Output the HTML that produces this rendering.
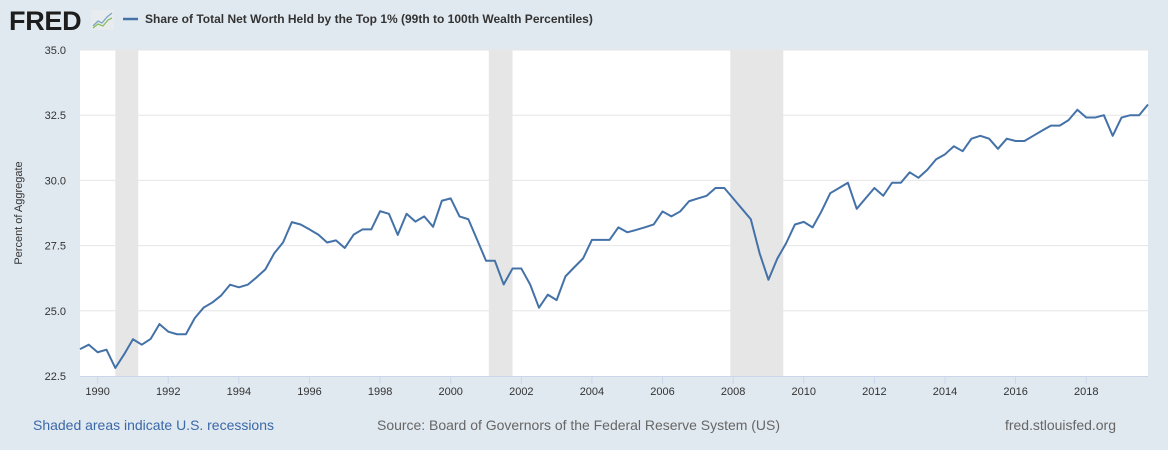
<!DOCTYPE html>
<html><head><meta charset="utf-8">
<style>
html,body{margin:0;padding:0;background:#e1e9f0;}
svg{display:block;font-family:"Liberation Sans",Arial,sans-serif;}
</style></head>
<body>
<svg id="chart" width="1168" height="450" viewBox="0 0 1168 450" xmlns="http://www.w3.org/2000/svg">
<rect x="0" y="0" width="1168" height="450" fill="#e1e9f0"/>
<g>
<text x="9" y="30" font-size="27" font-weight="bold" fill="#1d1d1d" letter-spacing="-0.3">FRED</text>
<rect x="91" y="10" width="23" height="20" fill="#e8ecef"/>
<polyline points="93,26 98,21 102,23 107,17 112,13" fill="none" stroke="#7aa6c8" stroke-width="1.3"/>
<polyline points="93,28 98,24 103,26 108,20 112,18" fill="none" stroke="#8cbf5a" stroke-width="1.3"/>
</g>
<g>
<line x1="123" y1="19" x2="138" y2="19" stroke="#4472a8" stroke-width="2.5"/>
<text x="145" y="23" font-size="12" font-weight="bold" fill="#333">Share of Total Net Worth Held by the Top 1% (99th to 100th Wealth Percentiles)</text>
</g>
<rect x="80" y="50" width="1068" height="326" fill="#ffffff"/>
<g id="rec"></g>
<g id="grid"></g>
<g id="xaxis"></g>
<path id="line" fill="none" stroke="#4472a8" stroke-width="2" stroke-linejoin="round"/>
<text x="22" y="213" font-size="11" fill="#333" text-anchor="middle" transform="rotate(-90 22 213)">Percent of Aggregate</text>
<text x="33" y="430" font-size="14" fill="#3a68a8" textLength="241">Shaded areas indicate U.S. recessions</text>
<text x="377" y="430" font-size="14" fill="#666" textLength="403">Source: Board of Governors of the Federal Reserve System (US)</text>
<text x="1005" y="430" font-size="14" fill="#666" textLength="111">fred.stlouisfed.org</text>
</svg>
<script>
const startYear = 1989.5;
const values = [23.53,23.7,23.41,23.51,22.81,23.33,23.91,23.7,23.92,24.49,24.2,24.1,24.1,24.72,25.12,25.32,25.59,26.0,25.9,26.0,26.28,26.59,27.2,27.62,28.4,28.31,28.12,27.92,27.62,27.7,27.41,27.92,28.12,28.12,28.82,28.72,27.91,28.72,28.42,28.62,28.22,29.22,29.31,28.62,28.51,27.72,26.92,26.92,26.01,26.62,26.62,26.01,25.12,25.62,25.41,26.32,26.67,27.01,27.72,27.72,27.72,28.2,28.01,28.1,28.2,28.31,28.81,28.62,28.81,29.2,29.31,29.41,29.71,29.71,29.31,28.91,28.51,27.2,26.19,27.0,27.59,28.31,28.41,28.2,28.81,29.51,29.71,29.91,28.91,29.31,29.71,29.41,29.91,29.91,30.31,30.1,30.41,30.81,31.0,31.31,31.12,31.6,31.71,31.6,31.21,31.6,31.51,31.51,31.71,31.91,32.1,32.1,32.31,32.71,32.41,32.41,32.5,31.71,32.41,32.5,32.5,32.91];
const yTicks = [22.5,25.0,27.5,30.0,32.5,35.0];
const xTicks = [1990,1992,1994,1996,1998,2000,2002,2004,2006,2008,2010,2012,2014,2016,2018];
const recStart = [1990.5,2001.08,2007.92];
const recEnd = [1991.15,2001.75,2009.42];

const NS='http://www.w3.org/2000/svg';
const X0=80,X1=1148,Y0=50,Y1=376;
const xMin=1989.5,xMax=2019.75,yMin=22.5,yMax=35;
const sx=v=>X0+(v-xMin)/(xMax-xMin)*(X1-X0);
const sy=v=>Y1-(v-yMin)/(yMax-yMin)*(Y1-Y0);
function mk(tag,attrs,parent){const e=document.createElementNS(NS,tag);for(const k in attrs)e.setAttribute(k,attrs[k]);parent.appendChild(e);return e;}

const rec=document.getElementById('rec');
recStart.forEach((s,i)=>{
  const r=mk('rect',{x:sx(s),y:Y0,width:sx(recEnd[i])-sx(s),height:Y1-Y0,fill:'#e6e6e6'},rec);
  
  
});
const grid=document.getElementById('grid');
yTicks.forEach(t=>{
  const y=sy(t);
  if(t>yMin){
    const l=mk('line',{x1:X0,x2:X1,y1:y,y2:y,stroke:'#e6e6e6','stroke-width':1},grid);
    
    
  }
  const tx=mk('text',{x:66,y:y+4,'font-size':11,fill:'#333','text-anchor':'end'},grid);
  tx.textContent=t.toFixed(1);
  
  
});
const xa=document.getElementById('xaxis');
const base=mk('line',{x1:X0,x2:X1,y1:Y1+0.5,y2:Y1+0.5,stroke:'#ccd6eb','stroke-width':1},xa);


xTicks.forEach(t=>{
  const x=sx(t);
  const tk=mk('line',{x1:x,x2:x,y1:Y1,y2:Y1+8,stroke:'#ccd6eb','stroke-width':1},xa);
  
  
  const tx=mk('text',{x:x,y:395,'font-size':11,fill:'#333','text-anchor':'middle'},xa);
  tx.textContent=t;
  
  
});
let d='';
values.forEach((v,i)=>{d+=(i?'L':'M')+sx(startYear+i*0.25).toFixed(2)+','+sy(v).toFixed(2);});
document.getElementById('line').setAttribute('d',d);
</script>
</body></html>
